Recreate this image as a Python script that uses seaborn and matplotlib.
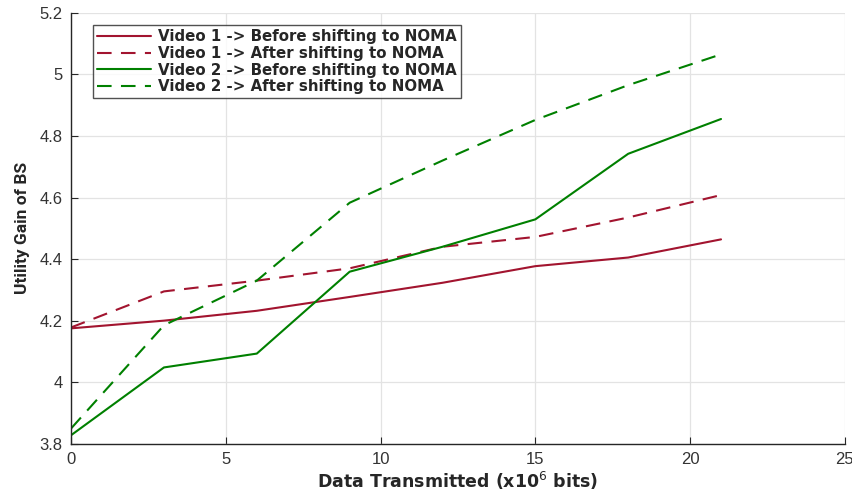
import seaborn as sns
import matplotlib.pyplot as plt
import pandas as pd

data_tx = [0, 3, 6, 9, 12, 15, 18, 21]
v1_before = [4.175, 4.200, 4.232, 4.277, 4.323, 4.377, 4.405, 4.464]
v1_after = [4.178, 4.295, 4.330, 4.370, 4.440, 4.472, 4.535, 4.608]
v2_before = [3.828, 4.048, 4.093, 4.359, 4.440, 4.529, 4.742, 4.855]
v2_after = [3.850, 4.185, 4.330, 4.583, 4.720, 4.852, 4.965, 5.065]

labels = ["Video 1 -> Before shifting to NOMA",
          "Video 1 -> After shifting to NOMA",
          "Video 2 -> Before shifting to NOMA",
          "Video 2 -> After shifting to NOMA"]

red = "#A2142F"
green = "#008000"

sns.set_style("whitegrid")
plt.rcParams['font.family'] = ['Liberation Sans', 'DejaVu Sans']

fig = plt.figure(figsize=(8.53, 4.92), dpi=100)
ax = fig.add_axes([0.0834, 0.098, 0.907, 0.876])

series = [(v1_before, red, "-"), (v1_after, red, "--"),
          (v2_before, green, "-"), (v2_after, green, "--")]
for (vals, col, ls), lab in zip(series, labels):
    df = pd.DataFrame({"x": data_tx, "y": vals})
    sns.lineplot(data=df, x="x", y="y", ax=ax, color=col, label=lab, lw=1.5)
    if ls == "--":
        ax.lines[-1].set_dashes((7, 4.5))

ax.set_xlim(0, 25)
ax.set_ylim(3.8, 5.2)
ax.set_xticks([0, 5, 10, 15, 20, 25])
ax.set_yticks([3.8, 4, 4.2, 4.4, 4.6, 4.8, 5, 5.2])
ax.set_yticklabels(["3.8", "4", "4.2", "4.4", "4.6", "4.8", "5", "5.2"])
ax.grid(True, color="#e3e3e3", lw=0.9)
for s in ["top", "right"]:
    ax.spines[s].set_visible(False)
for s in ["left", "bottom"]:
    ax.spines[s].set_color("#262626")
    ax.spines[s].set_linewidth(1.0)
ax.tick_params(direction="in", length=5, width=0.8, color="#262626",
               labelsize=12, labelcolor="#333333", left=True, bottom=True, pad=6)

ax.set_xlabel("Data Transmitted (x10$^{6}$ bits)", fontsize=12.5, fontweight="bold", labelpad=2,
              family=["DejaVu Sans"])
ax.set_ylabel("Utility Gain of BS", fontsize=12.5, fontweight="bold", labelpad=7,
              family=["Roboto", "Liberation Sans"])

leg = ax.legend(loc="upper left", bbox_to_anchor=(0.028, 0.971),
                prop={"weight": "bold", "size": 10.8, "family": "DejaVu Sans"},
                frameon=True, fancybox=False, handlelength=3.6, borderpad=0.25,
                labelspacing=0.12, handletextpad=0.5, borderaxespad=0)
leg.get_frame().set_edgecolor("#262626")
leg.get_frame().set_linewidth(1.0)

fig.savefig("out.png", dpi=100)
